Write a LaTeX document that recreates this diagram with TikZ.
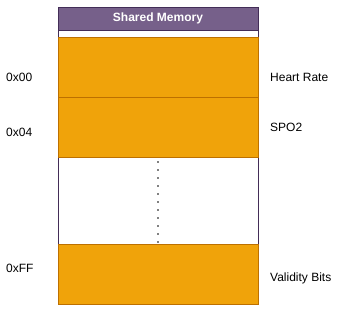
\documentclass[tikz,border=0pt]{standalone}
\usepackage{fontspec}
\setmainfont{Liberation Sans}
\definecolor{hdrfill}{HTML}{76608A}
\definecolor{hdrline}{HTML}{432D57}
\definecolor{orfill}{HTML}{F0A30A}
\definecolor{orline}{HTML}{BD7000}
\begin{document}
\begin{tikzpicture}[x=1pt,y=-1pt,
  cell/.style={draw=orline,fill=orfill,line width=0.8pt},
  lbl/.style={anchor=west,inner sep=0pt,font=\fontsize{12}{14}\selectfont},
  dots/.style={line width=1.6pt,line cap=round,dash pattern=on 0pt off 8pt}]
\useasboundingbox (0,0) rectangle (340,313);
\draw[draw=hdrline,fill=white,line width=0.8pt] (58,7) rectangle (258,304);
\draw[draw=hdrline,fill=hdrfill,line width=0.8pt] (58,7) rectangle (258,30);
\node[text=white,font=\bfseries\fontsize{12}{14}\selectfont,inner sep=0pt] (hdr) at (158,18.5) {Shared Memory};
\draw[cell] (58,37) rectangle (258,97);
\draw[cell] (58,97) rectangle (258,157);
\draw[cell] (58,244) rectangle (258,304);
\coordinate (d1) at (158,162);
\coordinate (d2) at (158,242);
\draw[dots] (d1) -- (d2);
\node[lbl] (a0) at (6,77) {0x00};
\node[lbl] (a4) at (6,132) {0x04};
\node[lbl] (aF) at (6,268) {0xFF};
\node[lbl] (hr) at (270,77) {Heart Rate};
\node[lbl] (sp) at (270,127) {SPO2};
\node[lbl] (vb) at (270,278) {Validity Bits};
\end{tikzpicture}
\end{document}
